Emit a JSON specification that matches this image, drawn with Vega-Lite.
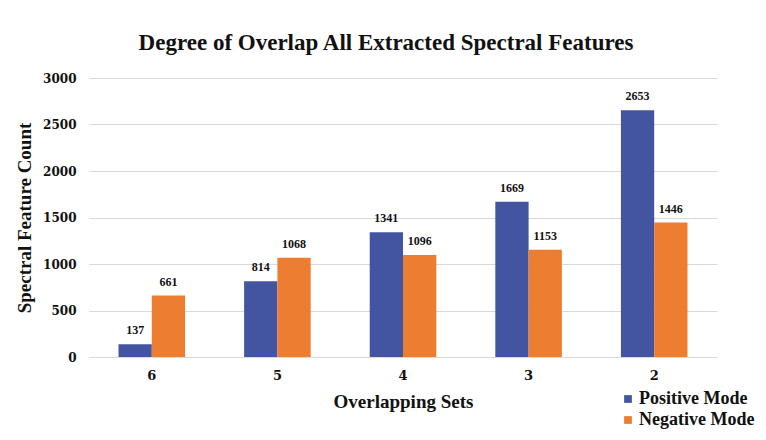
{
  "$schema": "https://vega.github.io/schema/vega-lite/v6.json",
  "width": 628,
  "height": 279,
  "autosize": {"type": "none"},
  "padding": {"left": 89, "top": 78, "right": 49, "bottom": 83},
  "background": "white",
  "title": {
    "text": "Degree of Overlap All Extracted Spectral Features",
    "font": "Liberation Serif",
    "fontSize": 23,
    "fontWeight": "bold",
    "color": "#111111",
    "anchor": "middle",
    "offset": 17,
    "dx": -17
  },
  "data": {
    "values": [
      {"set": "6", "mode": "Positive Mode", "count": 137},
      {"set": "6", "mode": "Negative Mode", "count": 661},
      {"set": "5", "mode": "Positive Mode", "count": 814},
      {"set": "5", "mode": "Negative Mode", "count": 1068},
      {"set": "4", "mode": "Positive Mode", "count": 1341},
      {"set": "4", "mode": "Negative Mode", "count": 1096},
      {"set": "3", "mode": "Positive Mode", "count": 1669},
      {"set": "3", "mode": "Negative Mode", "count": 1153},
      {"set": "2", "mode": "Positive Mode", "count": 2653},
      {"set": "2", "mode": "Negative Mode", "count": 1446}
    ]
  },
  "encoding": {
    "x": {
      "field": "set",
      "type": "nominal",
      "sort": ["6", "5", "4", "3", "2"],
      "scale": {"paddingInner": 0.47, "paddingOuter": 0.235},
      "axis": {
        "title": "Overlapping Sets",
        "titleFont": "Liberation Serif",
        "titleFontSize": 19,
        "titleFontWeight": "bold",
        "titleColor": "#111111",
        "titlePadding": 10,
        "labelFont": "DejaVu Serif",
        "labelFontSize": 13,
        "labelFontWeight": "bold",
        "labelColor": "#111111",
        "labelAngle": 0,
        "labelPadding": 12,
        "domain": false,
        "ticks": false
      }
    },
    "xOffset": {"field": "mode", "type": "nominal", "sort": ["Positive Mode", "Negative Mode"]},
    "y": {
      "field": "count",
      "type": "quantitative",
      "scale": {"domain": [0, 3000]},
      "axis": {
        "values": [0, 500, 1000, 1500, 2000, 2500, 3000],
        "format": "d",
        "title": "Spectral Feature Count",
        "titleFont": "Liberation Serif",
        "titleFontSize": 19,
        "titleFontWeight": "bold",
        "titleColor": "#111111",
        "titlePadding": 8,
        "labelFont": "DejaVu Serif",
        "labelFontSize": 12,
        "labelFontWeight": "bold",
        "labelColor": "#111111",
        "labelPadding": 13,
        "domain": false,
        "ticks": false,
        "gridColor": "#d9d9d9",
        "gridWidth": 1
      }
    }
  },
  "layer": [
    {
      "mark": {"type": "bar"},
      "encoding": {
        "color": {
          "field": "mode",
          "type": "nominal",
          "sort": ["Positive Mode", "Negative Mode"],
          "scale": {"domain": ["Positive Mode", "Negative Mode"], "range": ["#4355a0", "#ed7d31"]},
          "legend": {
            "title": null,
            "orient": "none",
            "legendX": 530,
            "legendY": 312,
            "symbolType": "square",
            "symbolSize": 60,
            "symbolStrokeWidth": 0,
            "labelFont": "Liberation Serif",
            "labelFontSize": 18,
            "labelFontWeight": "bold",
            "labelColor": "#111111",
            "labelOffset": 2,
            "rowPadding": 3
          }
        }
      }
    },
    {
      "mark": {"type": "text", "baseline": "bottom", "dy": -7, "font": "Liberation Serif", "fontSize": 12, "fontWeight": "bold", "color": "#111111"},
      "encoding": {
        "text": {"field": "count", "type": "quantitative"}
      }
    }
  ],
  "config": {"view": {"stroke": null}}
}
